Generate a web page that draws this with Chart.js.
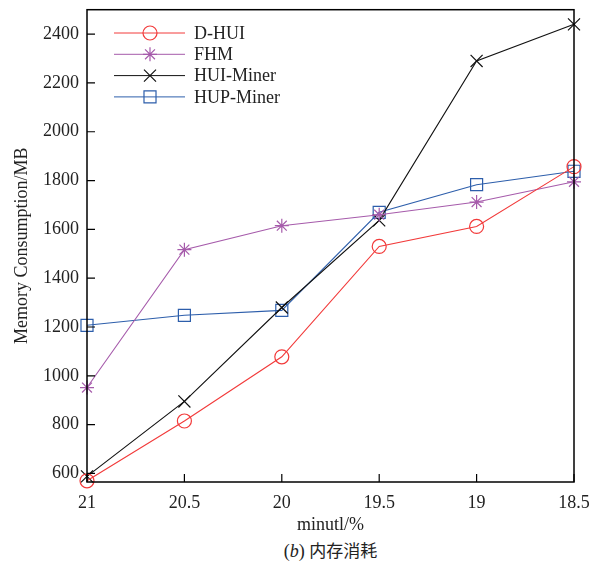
<!DOCTYPE html>
<html lang="en">
<head>
  <meta charset="UTF-8" />
  <title>Memory Consumption</title>
  <script src="https://cdn.jsdelivr.net/npm/chart.js"></script>
  <style>
    body {
      margin: 0;
      background: white;
      font-family: "Liberation Serif", serif;
    }
    #chartContainer {
      position: relative;
      width: 595px;
      height: 536px;
    }
    #caption {
      position: absolute;
      left: 0;
      top: 537px;
      width: 661px;
      text-align: center;
      font-size: 18px;
      color: #222;
      font-family: "Liberation Serif", "Noto Sans CJK SC", serif;
    }
    #caption .cjk { font-family: "Noto Sans CJK SC", sans-serif; font-size: 17px; }
  </style>
</head>
<body>
  <div id="chartContainer">
    <canvas id="memChart"></canvas>
  </div>
  <div id="caption">(<i>b</i>) <span class="cjk">内存消耗</span></div>

  <script>
    const categories = ["21", "20.5", "20", "19.5", "19", "18.5"];
    const yTicks = [600, 800, 1000, 1200, 1400, 1600, 1800, 2000, 2200, 2400];

    const dhui     = [570, 815, 1078, 1530, 1612, 1857];
    const fhm      = [952, 1517, 1615, 1660, 1712, 1795];
    const huiMiner = [588, 895, 1280, 1637, 2290, 2440];
    const hupMiner = [1207, 1248, 1268, 1670, 1783, 1838];

    const series = [
      { label: "D-HUI", data: dhui, color: "#f23a3a", style: "circle", r: 7 },
      { label: "FHM", data: fhm, color: "#a65bab", style: "star", r: 7 },
      { label: "HUI-Miner", data: huiMiner, color: "#111111", style: "crossRot", r: 8.5 },
      { label: "HUP-Miner", data: hupMiner, color: "#2d5eab", style: "rect", r: 8.5 }
    ];

    // frame, inward tick marks and the line+marker legend
    const framePlugin = {
      id: "frame",
      afterDatasetsDraw(chart) {
        const { ctx, chartArea: a, scales } = chart;
        ctx.save();
        ctx.strokeStyle = "#000";
        ctx.lineWidth = 1.5;
        ctx.strokeRect(a.left, a.top, a.right - a.left, a.bottom - a.top);
        ctx.lineWidth = 1.2;
        ctx.beginPath();
        yTicks.forEach(v => {
          const y = scales.y.getPixelForValue(v);
          ctx.moveTo(a.left, y);
          ctx.lineTo(a.left + 8, y);
        });
        categories.forEach((c, i) => {
          const x = scales.x.getPixelForValue(i);
          ctx.moveTo(x, a.bottom);
          ctx.lineTo(x, a.bottom - 8);
        });
        ctx.stroke();

        // legend
        ctx.font = "18px 'Liberation Serif'";
        ctx.textBaseline = "middle";
        series.forEach((s, i) => {
          const y = 33 + i * 21.3;
          ctx.strokeStyle = s.color;
          ctx.lineWidth = 1;
          ctx.beginPath();
          ctx.moveTo(114, y);
          ctx.lineTo(185, y);
          ctx.stroke();
          ctx.fillStyle = "rgba(0,0,0,0)";
          ctx.lineWidth = 1.2;
          Chart.helpers.drawPoint(ctx, {
            pointStyle: s.style, radius: s.r, borderWidth: 1.2, rotation: 0
          }, 150, y);
          ctx.fillStyle = "#222";
          ctx.fillText(s.label, 194, y + 1);
        });
        ctx.restore();
      }
    };

    const ctx = document.getElementById("memChart").getContext("2d");
    new Chart(ctx, {
      type: "line",
      data: {
        labels: categories,
        datasets: series.map(s => ({
          label: s.label,
          data: s.data,
          borderColor: s.color,
          backgroundColor: "rgba(0,0,0,0)",
          borderWidth: 1.1,
          pointStyle: s.style,
          pointRadius: s.r,
          pointBorderWidth: 1.2,
          pointBorderColor: s.color,
          pointBackgroundColor: "rgba(0,0,0,0)",
          tension: 0,
          clip: false
        }))
      },
      options: {
        responsive: true,
        maintainAspectRatio: false,
        animation: false,
        layout: { padding: { left: 11, right: 21, top: 2, bottom: 0 } },
        scales: {
          x: {
            offset: false,
            grid: { display: false },
            border: { display: false },
            ticks: {
              color: "#222",
              padding: 2,
              maxRotation: 0,
              font: { family: "Liberation Serif", size: 18 }
            },
            title: {
              display: true,
              text: "minutl/%",
              color: "#222",
              padding: { top: 0, bottom: 0 },
              font: { family: "Liberation Serif", size: 18 }
            },
            afterFit(s) {
              s.height = 54;
              s.paddingLeft = 0;
              s.paddingRight = 0;
            }
          },
          y: {
            min: 565,
            max: 2500,
            grid: { display: false },
            border: { display: false },
            afterBuildTicks(s) { s.ticks = yTicks.map(v => ({ value: v })); },
            ticks: {
              color: "#222",
              padding: 0,
              callback: v => String(v),
              font: { family: "Liberation Serif", size: 18 }
            },
            title: {
              display: true,
              text: "Memory Consumption/MB",
              color: "#222",
              padding: { top: 0, bottom: 0 },
              font: { family: "Liberation Serif", size: 18 }
            },
            afterFit(s) {
              s.width = 76;
              s.paddingTop = 0;
              s.paddingBottom = 0;
            }
          }
        },
        plugins: {
          legend: { display: false },
          tooltip: { enabled: false }
        }
      },
      plugins: [framePlugin]
    });
  </script>
</body>
</html>
